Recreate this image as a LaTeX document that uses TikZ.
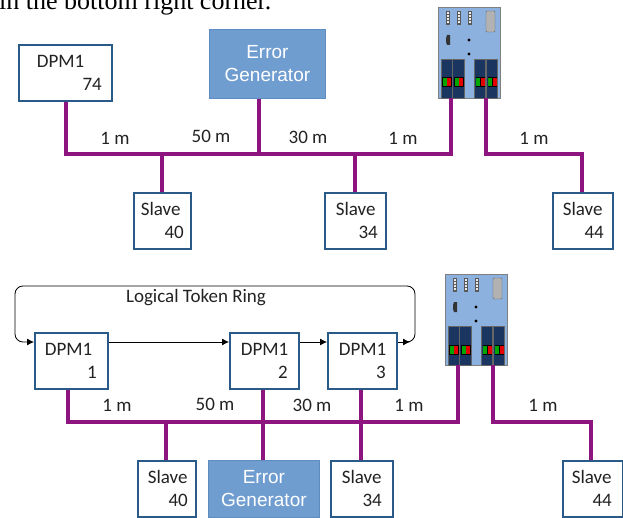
\documentclass[tikz,border=0pt]{standalone}
\usepackage{fontspec}
\setmainfont{Carlito}
\newfontfamily\arialf{Liberation Sans}
\newfontfamily\timesf{Liberation Serif}
\usetikzlibrary{arrows.meta}
\definecolor{busc}{HTML}{8E1480}
\definecolor{boxc}{HTML}{2A5A88}
\definecolor{errc}{HTML}{709DD0}
\definecolor{errl}{HTML}{5F8CC0}
\definecolor{plcb}{HTML}{8DB1DF}
\definecolor{plcd}{HTML}{1B3561}
\definecolor{txt}{HTML}{222222}
\tikzset{
  lab/.style={font=\fontsize{19}{23}\selectfont,text=txt,inner sep=0pt},
  devbox/.style={draw=boxc,line width=1.7pt,fill=white,font=\fontsize{19}{23}\selectfont,text=txt,
    anchor=north west,inner sep=0pt,minimum height=#1},
  devbox/.default=56pt,
  errbox/.style={draw=errl,line width=.8pt,fill=errc,text=white,anchor=north west,align=center,
    font=\arialf\fontsize{19}{23}\selectfont,inner sep=0pt},
  bus/.style={draw=busc,line width=3.2pt,line join=miter},
  ring/.style={draw=black,line width=.8pt,-{Latex[length=7pt,width=7pt]}},
  plc/.pic={
    \fill[plcb] (0,0) rectangle (62,91);
    \draw[gray,line width=.9pt] (0,0) rectangle (62,91);
    \foreach \x in {10,21,32}{
      \fill[gray!70!black] (\x-2,4) rectangle (\x+2,18);
      \foreach \y in {5,8,11,14}{\fill[white!85!gray] (\x-1,\y) rectangle (\x+1,\y+1.6);}
    }
    \fill[gray!60] (48,4) rectangle (57,25);
    \draw[gray!80!black,rounded corners=1pt] (48,4) rectangle (57,25);
    \fill[black!80] (9,28) -- (12,28) -- (12,38) -- (9,38) -- (8,35) -- (8,31) -- cycle;
    \fill[black] (31,33) circle (1.7);
    \fill[black] (31,47) circle (1.7);
    \foreach \x in {3,14.5,36,48}{
      \fill[plcd] (\x,52) rectangle +(11.5,39);
      \draw[black!60,line width=.4pt] (\x,52) rectangle +(11.5,39);
    }
    \foreach \x in {4,16,37.5,49.5}{
      \fill[black] (\x,70.5) rectangle +(9.8,10);
      \fill[green!65!black] (\x+.8,71.5) rectangle +(4,8);
      \fill[red!90!black] (\x+5,71.5) rectangle +(4,8);
    }
    \coordinate (-l) at (13,91);
    \coordinate (-r) at (48,91);
  }
}
\newcommand{\twol}[4]{\hspace*{#1}#3\\\hfill #4\hspace*{#2}}
\begin{document}
\begin{tikzpicture}[x=1pt,y=-1pt]
\useasboundingbox (0,0) rectangle (623,518);
\begin{scope}
\clip (0,0) rectangle (623,518);
\node[anchor=base west,inner sep=0pt,font=\timesf\fontsize{26}{30}\selectfont] (cap) at (-1,9.5) {in the bottom right corner.};
\end{scope}

% ---------- upper
\node[devbox,text width=93pt] (d74) at (18,44) {\twol{18pt}{10pt}{DPM1}{74}};
\node[errbox,minimum width=116pt,minimum height=69pt] (eg1) at (209,29) {Error\\Generator};
\pic (p1) at (438,7) {plc};
\node[devbox,text width=57pt] (s40a) at (133,192) {\twol{7pt}{7pt}{Slave}{40}};
\node[devbox,text width=61pt] (s34a) at (324,192) {\twol{11pt}{8pt}{Slave}{34}};
\node[devbox,text width=60pt] (s44a) at (552,192) {\twol{10pt}{9pt}{Slave}{44}};
\coordinate (a0) at (66,154);
\coordinate (a1) at (162,154);
\coordinate (a2) at (259,154);
\coordinate (a3) at (355,154);
\coordinate (a4) at (451,154);
\coordinate (a5) at (486,154);
\coordinate (a6) at (582,154);
\draw[bus] (d74.south -| a0) -- (a0) -- (a4) -- (p1-l);
\draw[bus] (a1) -- (s40a.north -| a1);
\draw[bus] (eg1.south -| a2) -- (a2);
\draw[bus] (a3) -- (s34a.north -| a3);
\draw[bus] (p1-r -| a5) -- (a5) -- (a6) -- (s44a.north -| a6);
\node[lab] (m1) at (115,138) {1 m};
\node[lab] (m2) at (211,136) {50 m};
\node[lab] (m3) at (308,137) {30 m};
\node[lab] (m4) at (403,138) {1 m};
\node[lab] (m5) at (534,138) {1 m};

% ---------- lower
\node[devbox,text width=73pt] (d1) at (34,332) {\twol{10pt}{11pt}{DPM1}{1}};
\node[devbox,text width=69pt] (d2) at (229,332) {\twol{11pt}{11pt}{DPM1}{2}};
\node[devbox,text width=69pt] (d3) at (327,332) {\twol{11pt}{11pt}{DPM1}{3}};
\pic (p2) at (445,274) {plc};
\node[devbox,text width=58pt] (s40b) at (137,460) {\twol{10pt}{8pt}{Slave}{40}};
\node[errbox,minimum width=111pt,minimum height=57pt] (eg2) at (208,460) {Error\\Generator};
\node[devbox,text width=62pt] (s34b) at (330,460) {\twol{11pt}{11pt}{Slave}{34}};
\node[devbox,text width=60pt] (s44b) at (562,460) {\twol{9pt}{11pt}{Slave}{44}};
\coordinate (b0) at (68,422);
\coordinate (b1) at (166,422);
\coordinate (b2) at (263,422);
\coordinate (b3) at (361,422);
\coordinate (b4) at (458,422);
\coordinate (b5) at (493,422);
\coordinate (b6) at (591,422);
\draw[bus] (d1.south -| b0) -- (b0) -- (b4) -- (p2-l -| b4);
\draw[bus] (b1) -- (s40b.north -| b1);
\draw[bus] (d2.south -| b2) -- (eg2.north -| b2);
\draw[bus] (d3.south -| b3) -- (s34b.north -| b3);
\draw[bus] (p2-r -| b5) -- (b5) -- (b6) -- (s44b.north -| b6);
\node[lab] (n1) at (117,405) {1 m};
\node[lab] (n2) at (215,404) {50 m};
\node[lab] (n3) at (312,405) {30 m};
\node[lab] (n4) at (409,405) {1 m};
\node[lab] (n5) at (543,405) {1 m};
\node[lab] (ltr) at (196,298) {Logical Token Ring};

\coordinate (r1) at (d3.east |- 0,342);
\coordinate (r3) at (d1.west |- 0,342);
\draw[ring] (d1.east |- r1) -- (d2.west |- r1);
\draw[ring] (d2.east |- r1) -- (d3.west |- r1);
\draw[ring] (r1) -- (410,342);
\draw[ring,rounded corners=8pt] (404,342) -- (415,342) -- (415,286) -- (15,286) -- (15,342) -- (r3);
\end{tikzpicture}
\end{document}
